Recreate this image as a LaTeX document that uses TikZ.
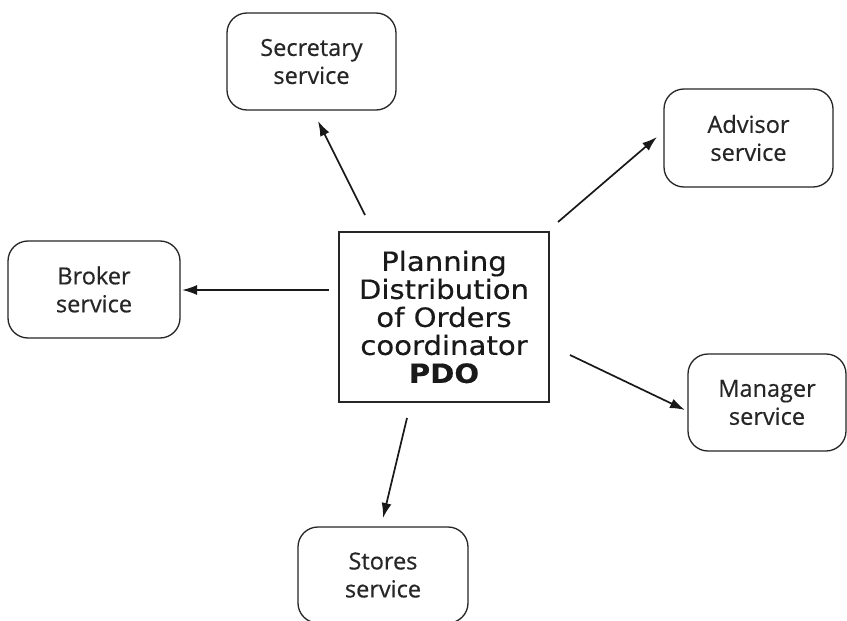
\documentclass[tikz,border=0pt]{standalone}
\usepackage{fontspec}
\setmainfont[FakeBold=0.5]{Open Sans}
\newfontfamily\pdofont[FakeStretch=1.1,FakeBold=0.4]{DejaVu Sans}
\usetikzlibrary{arrows.meta}
\begin{document}
\begin{tikzpicture}[x=1pt,y=-1pt,
  svc/.style={draw=black!85, line width=1.3pt, rounded corners=20pt, align=center,
    inner sep=0pt, font=\fontsize{23.5}{28}\selectfont, text=black!85},
  coord/.style={draw=black!85, line width=1.6pt, align=center, inner sep=0pt,
    font=\pdofont\fontsize{26.5}{28}\selectfont, text=black!90},
  link/.style={draw=black!90, line width=1.7pt, -{Latex[length=15pt,width=10pt]}}]
\useasboundingbox (0,0) rectangle (847,621);
\fill[white] (0,0) rectangle (847,621);
% nodes
\node[coord, minimum width=210pt, minimum height=170pt] (pdo) at (444,317)
  {Planning\\Distribution\\of Orders\\coordinator\\\textbf{PDO}};
\node[svc, minimum width=169pt, minimum height=97pt] (sec) at (311.5,61.5) {Secretary\\service};
\node[svc, minimum width=169pt, minimum height=98pt] (adv) at (748.5,138) {Advisor\\service};
\node[svc, minimum width=172pt, minimum height=97pt] (bro) at (94,289.5) {Broker\\service};
\node[svc, minimum width=158pt, minimum height=97pt] (man) at (767,402.5) {Manager\\service};
\node[svc, minimum width=170pt, minimum height=96pt] (sto) at (383,575) {Stores\\service};
% connector end points (arrows do not touch the boxes)
\coordinate (s1) at (365,215);  \coordinate (s2) at (318,121);
\coordinate (a1) at (558,222);  \coordinate (a2) at (657,137);
\coordinate (b1) at (329,290);  \coordinate (b2) at (182,290);
\coordinate (m1) at (570,355);  \coordinate (m2) at (685,410);
\coordinate (t1) at (407,418);  \coordinate (t2) at (383,518);
\draw[link] (s1) -- (s2);
\draw[link] (a1) -- (a2);
\draw[link] (b1) -- (b2);
\draw[link] (m1) -- (m2);
\draw[link] (t1) -- (t2);
\end{tikzpicture}
\end{document}
